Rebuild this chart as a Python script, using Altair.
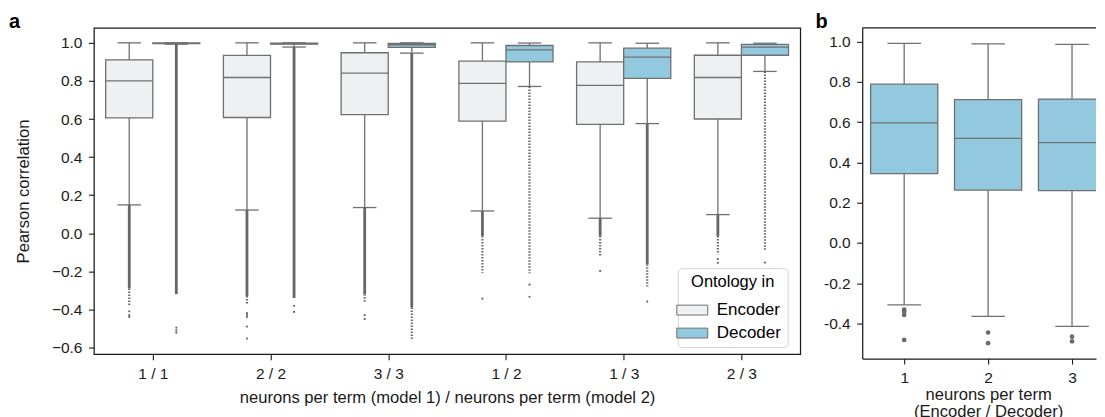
import json
import altair as alt
import pandas as pd

FONT = "Liberation Sans, Arial, sans-serif"
LINE = "#707070"
INK = "#1a1a1a"

# ---------------- panel a ----------------
groups = ["1 / 1", "2 / 2", "3 / 3", "1 / 2", "1 / 3", "2 / 3"]
hues = ["Encoder", "Decoder"]
hue_colors = ["#eff0f2", "#92c9df"]

enc_whisker_hi = [1.0, 1.0, 1.0, 1.0, 1.0, 1.0]
enc_q3 = [0.911, 0.934, 0.948, 0.904, 0.900, 0.935]
enc_median = [0.800, 0.818, 0.841, 0.787, 0.777, 0.818]
enc_q1 = [0.606, 0.608, 0.623, 0.589, 0.572, 0.600]
enc_whisker_lo = [0.149, 0.122, 0.135, 0.117, 0.079, 0.098]
enc_dense_lo = [-0.29, -0.33, -0.32, -0.014, -0.014, -0.014]
enc_scatter_lo = [-0.38, -0.37, -0.36, -0.207, -0.12, -0.11]
enc_fliers = [[-0.41, -0.43, -0.44], [-0.42, -0.43, -0.44, -0.49, -0.553],
              [-0.43, -0.45], [-0.343], [-0.198], [-0.135, -0.155]]

dec_whisker_hi = [1.0, 1.0, 1.0, 0.999, 0.998, 0.998]
dec_q3 = [0.999, 0.998, 0.997, 0.986, 0.972, 0.992]
dec_median = [0.998, 0.996, 0.990, 0.963, 0.925, 0.978]
dec_q1 = [0.996, 0.993, 0.976, 0.900, 0.813, 0.935]
dec_whisker_lo = [0.993, 0.978, 0.946, 0.771, 0.576, 0.850]
dec_dense_lo = [-0.32, -0.34, -0.39, 0.771, -0.163, 0.850]
dec_scatter_lo = [-0.32, -0.34, -0.555, -0.21, -0.28, -0.09]
dec_fliers = [[-0.496, -0.51, -0.522], [-0.381, -0.413], [],
              [-0.27, -0.334], [-0.359], [-0.154, -0.224]]

# ---------------- panel b ----------------
b_groups = ["1", "2", "3"]
b_whisker_hi = [0.990, 0.988, 0.985]
b_q3 = [0.788, 0.711, 0.714]
b_median = [0.596, 0.519, 0.498]
b_q1 = [0.344, 0.262, 0.260]
b_whisker_lo = [-0.307, -0.364, -0.414]
b_fliers = [[-0.33, -0.34, -0.357, -0.481], [-0.444, -0.497], [-0.465, -0.488]]

panel_labels = ["a", "b"]

# ---------------- tables ----------------
rows = []
flier_rows = []
stats = {
    "Encoder": (enc_whisker_hi, enc_q3, enc_median, enc_q1, enc_whisker_lo,
                enc_dense_lo, enc_scatter_lo, enc_fliers),
    "Decoder": (dec_whisker_hi, dec_q3, dec_median, dec_q1, dec_whisker_lo,
                dec_dense_lo, dec_scatter_lo, dec_fliers),
}
for i, g in enumerate(groups):
    for h in hues:
        whi, q3, med, q1, wlo, dlo, slo, fl = stats[h]
        rows.append(dict(group=g, gi=i, hue=h, whi=whi[i], q3=q3[i], med=med[i],
                         q1=q1[i], wlo=wlo[i], dlo=dlo[i], slo=slo[i]))
        for v in fl[i]:
            flier_rows.append(dict(group=g, gi=i, hue=h, value=v))
box_df = pd.DataFrame(rows)
flier_df = pd.DataFrame(flier_rows)

b_rows = []
b_flier_rows = []
for i, g in enumerate(b_groups):
    b_rows.append(dict(group=g, gi=i + 1, whi=b_whisker_hi[i], q3=b_q3[i], med=b_median[i],
                       q1=b_q1[i], wlo=b_whisker_lo[i]))
    for v in b_fliers[i]:
        b_flier_rows.append(dict(group=g, gi=i + 1, value=v))
b_df = pd.DataFrame(b_rows)
b_flier_df = pd.DataFrame(b_flier_rows)

# ---------------- panel a chart ----------------
W_A, H_A = 707, 326.6
xs_a = alt.Scale(domain=[-0.5, len(groups) - 0.5], nice=False, zero=False)
ys_a = alt.Scale(domain=[-0.635, 1.0787], nice=False, zero=False)
label_expr_a = json.dumps(groups).replace('"', "'") + "[datum.value]"

calc = dict(pos="datum.gi + (datum.hue == 'Encoder' ? -0.2 : 0.2)")
base_a = alt.Chart(box_df).transform_calculate(**calc).transform_calculate(
    left="datum.pos - 0.2", right="datum.pos + 0.2",
    capl="datum.pos - 0.1", capr="datum.pos + 0.1")

x_axis_a = alt.Axis(values=list(range(len(groups))), labelExpr=label_expr_a,
                    title="neurons per term (model 1) / neurons per term (model 2)",
                    grid=False, titlePadding=8)
y_axis_a = alt.Axis(values=[-0.6, -0.4, -0.2, 0.0, 0.2, 0.4, 0.6, 0.8, 1.0],
                    labelExpr="(datum.value < 0 ? '\u2212' : '') + format(abs(datum.value), '.1f')",
                    title="Pearson correlation", grid=False, titlePadding=20)


def xq(field):
    return alt.X(f"{field}:Q", scale=xs_a, axis=x_axis_a)


def yq(field):
    return alt.Y(f"{field}:Q", scale=ys_a, axis=y_axis_a)


legend = alt.Legend(
    title="Ontology in", orient="none", legendX=584.4, legendY=240.5,
    symbolType="M-2,-0.64H2V0.64H-2Z", symbolSize=240,
    symbolStrokeColor=LINE, symbolStrokeWidth=1, labelOffset=16,
    titleFontSize=16.5, labelFontSize=17, titleFontWeight="normal",
    titleColor="black", labelColor="black", titleFont=FONT, labelFont=FONT,
    fillColor="rgba(255,255,255,0.8)", strokeColor="#d4d4d4", cornerRadius=4,
    padding=6, rowPadding=5, titlePadding=11, titleAnchor="middle",
)

boxes = base_a.mark_rect(stroke=LINE, strokeWidth=1.3).encode(
    x=xq("left"), x2="right:Q", y=yq("q1"), y2="q3:Q",
    fill=alt.Fill("hue:N", scale=alt.Scale(domain=hues, range=hue_colors), legend=legend),
)
medians = base_a.mark_rule(color=LINE, strokeWidth=1.3).encode(
    x=xq("left"), x2="right:Q", y=yq("med"))
whisk_hi = base_a.mark_rule(color=LINE, strokeWidth=1.3).encode(
    x=xq("pos"), y=yq("q3"), y2="whi:Q")
whisk_lo = base_a.mark_rule(color=LINE, strokeWidth=1.3).encode(
    x=xq("pos"), y=yq("q1"), y2="wlo:Q")
cap_hi = base_a.mark_rule(color=LINE, strokeWidth=1.3).encode(
    x=xq("capl"), x2="capr:Q", y=yq("whi"))
cap_lo = base_a.mark_rule(color=LINE, strokeWidth=1.3).encode(
    x=xq("capl"), x2="capr:Q", y=yq("wlo"))
dense = base_a.transform_filter("datum.dlo < datum.wlo").mark_rule(
    color="#666666", strokeWidth=2.8).encode(x=xq("pos"), y=yq("wlo"), y2="dlo:Q")
scatter = base_a.transform_filter("datum.slo < datum.dlo").mark_rule(
    color="#6a6a6a", strokeWidth=2.2, strokeDash=[1.5, 1.5]).encode(
    x=xq("pos"), y=yq("dlo"), y2="slo:Q")
fliers = alt.Chart(flier_df).transform_calculate(**calc).mark_circle(
    color="#6a6a6a", size=5, opacity=1).encode(x=xq("pos"), y=yq("value"))

label_a = alt.Chart(pd.DataFrame({"t": panel_labels[:1]})).mark_text(
    align="left", baseline="alphabetic", fontSize=20, fontWeight="bold", font=FONT,
    color="black").encode(x=alt.value(-85), y=alt.value(0), text="t:N")

panel_a = alt.layer(boxes, medians, whisk_hi, whisk_lo, cap_hi, cap_lo,
                    dense, scatter, fliers, label_a).properties(width=W_A, height=H_A)

# ---------------- panel b chart ----------------
W_B, H_B = 234, 331
STEP_B = 84
X_MAX_B = 0.5 + W_B / STEP_B
xs_b = alt.Scale(domain=[0.5, X_MAX_B], nice=False, zero=False)
ys_b = alt.Scale(domain=[-0.5734, 1.0674], nice=False, zero=False)
label_expr_b = json.dumps(b_groups).replace('"', "'") + "[datum.value - 1]"

base_b = alt.Chart(b_df).transform_calculate(
    left="datum.gi - 0.4", right=f"min(datum.gi + 0.4, {X_MAX_B + 0.02})",
    capl="datum.gi - 0.2", capr="datum.gi + 0.2")

x_axis_b = alt.Axis(values=list(range(1, len(b_groups) + 1)), labelExpr=label_expr_b,
                    title=["neurons per term", "(Encoder / Decoder)"],
                    titleLineHeight=17.5, grid=False, titlePadding=0,
                    titleX=STEP_B * 1.5, titleAnchor="middle",
                    domain=True, domainColor=INK, domainWidth=1.25)
y_axis_b = alt.Axis(values=[-0.4, -0.2, 0.0, 0.2, 0.4, 0.6, 0.8, 1.0],
                    labelExpr="(datum.value < 0 ? '-' : '') + format(abs(datum.value), '.1f')",
                    title=None, grid=False,
                    domain=True, domainColor=INK, domainWidth=1.25)


def xb(field):
    return alt.X(f"{field}:Q", scale=xs_b, axis=x_axis_b)


def yb(field):
    return alt.Y(f"{field}:Q", scale=ys_b, axis=y_axis_b)


b_boxes = base_b.mark_rect(stroke=LINE, strokeWidth=1.3, fill=hue_colors[1], clip=True).encode(
    x=xb("left"), x2="right:Q", y=yb("q1"), y2="q3:Q")
b_med = base_b.mark_rule(color=LINE, strokeWidth=1.3, clip=True).encode(
    x=xb("left"), x2="right:Q", y=yb("med"))
b_wh = base_b.mark_rule(color=LINE, strokeWidth=1.3, clip=True).encode(
    x=xb("gi"), y=yb("q3"), y2="whi:Q")
b_wl = base_b.mark_rule(color=LINE, strokeWidth=1.3, clip=True).encode(
    x=xb("gi"), y=yb("q1"), y2="wlo:Q")
b_ch = base_b.mark_rule(color=LINE, strokeWidth=1.3, clip=True).encode(
    x=xb("capl"), x2="capr:Q", y=yb("whi"))
b_cl = base_b.mark_rule(color=LINE, strokeWidth=1.3, clip=True).encode(
    x=xb("capl"), x2="capr:Q", y=yb("wlo"))
b_fl = alt.Chart(b_flier_df).mark_circle(color="#6a6a6a", size=22, opacity=1, clip=True).encode(
    x=xb("gi"), y=yb("value"))
b_top = alt.Chart(pd.DataFrame({"t": panel_labels[1:]})).mark_rule(
    color=INK, strokeWidth=1.25).encode(x=alt.value(0), x2=alt.value(W_B), y=alt.value(0))
label_b = alt.Chart(pd.DataFrame({"t": panel_labels[1:]})).mark_text(
    align="left", baseline="alphabetic", fontSize=20, fontWeight="bold", font=FONT,
    color="black").encode(x=alt.value(-46.7), y=alt.value(0), text="t:N")

panel_b = alt.layer(b_boxes, b_med, b_wh, b_wl, b_ch, b_cl, b_fl, b_top, label_b).properties(
    width=W_B, height=H_B, view=alt.ViewBackground(strokeOpacity=0))

chart = alt.hconcat(panel_a, panel_b, spacing=14).resolve_scale(
    x="independent", y="independent", color="independent"
).resolve_legend(color="independent").properties(
    padding={"left": 0, "top": 2.7, "right": 0, "bottom": 0}
).configure(font=FONT).configure_view(
    stroke=INK, strokeWidth=1.25
).configure_axis(
    domain=False, tickColor=INK, tickSize=5.5, tickWidth=1.1, labelPadding=6.5,
    labelFont=FONT, titleFont=FONT, labelFontSize=15.5, titleFontSize=16.6,
    labelColor=INK, titleColor=INK, titleFontWeight="normal"
)

chart.save("out.html", embed_options={"renderer": "svg", "actions": False})
